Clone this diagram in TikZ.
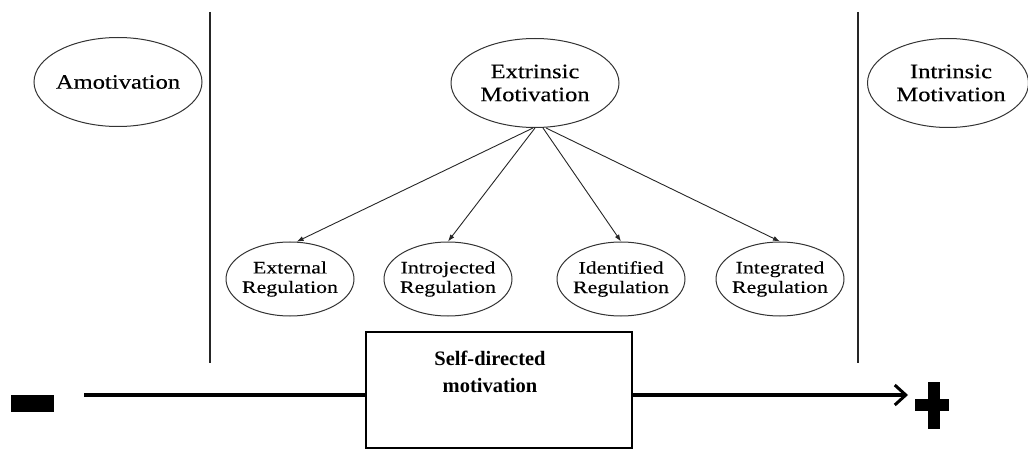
\documentclass[tikz,border=0pt]{standalone}
\usepackage{fontspec}
\setmainfont{Liberation Serif}
\newfontfamily\topf[FakeStretch=1.2,FakeBold=0.3]{Liberation Serif}
\newfontfamily\botf[FakeStretch=1.25,FakeBold=0.3]{Liberation Serif}
\usetikzlibrary{shapes.geometric,arrows.meta,calc}
\begin{document}
\begin{tikzpicture}[x=1pt,y=-1pt,
  ell/.style={draw=black!80,line width=1pt,ellipse,inner sep=0pt},
  bigell/.style={ell,minimum width=168pt,minimum height=89pt},
  smallell/.style={ell,minimum width=128pt,minimum height=74pt},
  toplbl/.style={align=center,inner sep=0pt,text=black,font=\topf\fontsize{20.5}{23}\selectfont},
  botlbl/.style={align=center,inner sep=0pt,text=black,font=\botf\fontsize{17.5}{19.5}\selectfont},
  divider/.style={line width=2pt,black!85},
  fan/.style={line width=0.9pt,black!85,-{Latex[length=7pt,width=5pt]}},
  bigline/.style={line width=4pt,black},
  sign/.style={fill=black,draw=none}]
\useasboundingbox (0,0) rectangle (1028,449);
% dividers
\coordinate (d1t) at (210,12); \coordinate (d1b) at (210,363);
\coordinate (d2t) at (858,12); \coordinate (d2b) at (858,363);
\draw[divider] (d1t) -- (d1b);
\draw[divider] (d2t) -- (d2b);
% top ellipses
\node[bigell] (amo) at (118,82) {};
\node[toplbl] (amoT) at (amo.center) {Amotivation};
\node[bigell] (ext) at (535,83) {};
\node[toplbl] (extT) at (ext.center) {Extrinsic\\Motivation};
\node[ell,minimum width=161pt,minimum height=89pt] (intr) at (948,83) {};
\node[toplbl] (intrT) at (951,83) {Intrinsic\\Motivation};
% bottom ellipses
\node[smallell] (er) at (290,279) {};
\node[botlbl] (erT) at (er.center) {External\\Regulation};
\node[smallell] (ir) at (448,279) {};
\node[botlbl] (irT) at (ir.center) {Introjected\\Regulation};
\node[smallell] (idr) at (621,279) {};
\node[botlbl] (idrT) at (idr.center) {Identified\\Regulation};
\node[smallell] (ingr) at (780,279) {};
\node[botlbl] (ingrT) at (ingr.center) {Integrated\\Regulation};
% fan arrows
\draw[fan] ($(ext.south)+(-2,0)$) -- (er.80);
\draw[fan] ($(ext.south)+(0,0)$) -- (ir.north);
\draw[fan] ($(ext.south)+(8,0)$) -- (idr.north);
\draw[fan] ($(ext.south)+(11,0)$) -- (ingr.north);
% box
\node[draw,line width=2pt,minimum width=266pt,minimum height=116pt,inner sep=0pt] (box) at (499,390) {};
\node[align=center,inner sep=0pt,font=\fontsize{20.5}{27}\selectfont\bfseries] (boxT) at (490,371.5) {Self-directed\\motivation};
% continuum arrow
\coordinate (ls) at (84,395);
\coordinate (rt) at (908,395);
\draw[bigline] (ls) -- (ls -| box.west);
\draw[bigline,-{Straight Barb[length=11pt,width=20pt,line width=3pt]}] (rt -| box.east) -- (rt);
% minus and plus
\fill[sign] (11,395) rectangle (54,412);
\fill[sign] (915,399) rectangle (949,411);
\fill[sign] (928,382) rectangle (940,429);
\end{tikzpicture}
\end{document}
